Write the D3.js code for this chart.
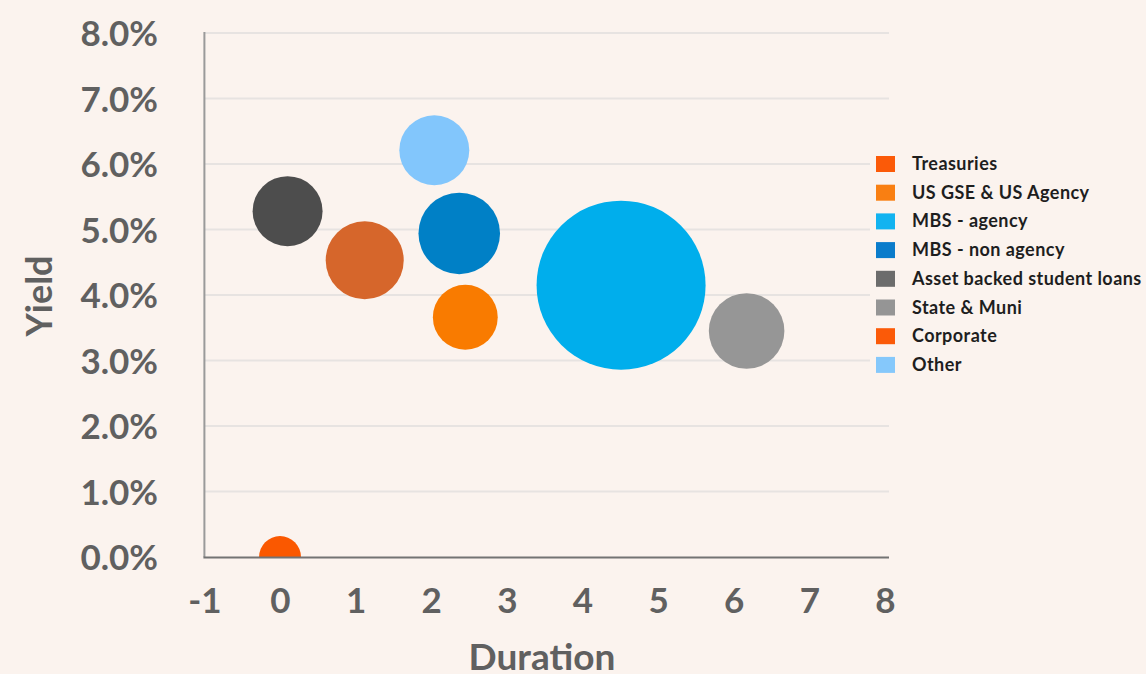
<!DOCTYPE html>
<html><head><meta charset="utf-8">
<script src="https://cdn.jsdelivr.net/npm/d3@7"></script>
<style>
html,body{margin:0;padding:0;background:#fbf3ee;}
svg{display:block;font-family:Lato, "Open Sans", sans-serif;}
</style></head>
<body>
<svg id="c" width="1146" height="674"></svg>
<script>
const categories = ["Treasuries","US GSE & US Agency","MBS - agency","MBS - non agency","Asset backed student loans","State & Muni","Corporate","Other"];
const duration   = [0.0, 2.45, 4.51, 2.37, 0.10, 6.17, 1.12, 2.04];
const yieldVals  = [0.000, 0.0366, 0.0415, 0.0494, 0.0528, 0.0345, 0.0453, 0.0621];
const weights    = [2.8, 6.7, 45.5, 10.6, 7.8, 9.1, 9.7, 7.8];
const bubbleColors = ["#fa5800","#f97b00","#00aeec","#0080c6","#4d4d4d","#969696","#d6662b","#82c6fc"];
const legendColors = ["#fb5a08","#f97f12","#12b3f0","#0a7ccb","#6c6c6c","#959595","#fb5a08","#85c8fb"];
const xTicks = [-1,0,1,2,3,4,5,6,7,8];
const yTicks = [0,0.01,0.02,0.03,0.04,0.05,0.06,0.07,0.08];

const svg = d3.select("#c");
const L = 204.4, R = 885, T = 33, B = 557;
const x = d3.scaleLinear().domain([-1,8]).range([L,R]);
const y = d3.scaleLinear().domain([0,0.08]).range([B,T]);
const r = d3.scaleSqrt().domain([0,45.5]).range([0,84.5]);

// gridlines
svg.append("g").selectAll("line").data(yTicks.filter(d=>d>0)).join("line")
  .attr("x1",L).attr("x2",889).attr("y1",d=>y(d)).attr("y2",d=>y(d))
  .attr("stroke","#e7e3e1").attr("stroke-width",2);

// clip
svg.append("clipPath").attr("id","plot").append("rect")
  .attr("x",L).attr("y",T-2).attr("width",889-L).attr("height",B-T+2);

const data = categories.map((c,i)=>({c, x:duration[i], y:yieldVals[i], w:weights[i], col:bubbleColors[i]}));
svg.append("g").attr("clip-path","url(#plot)").selectAll("circle")
  .data(data.slice().sort((a,b)=>b.w-a.w)).join("circle")
  .attr("cx",d=>x(d.x)).attr("cy",d=>y(d.y)).attr("r",d=>r(d.w))
  .attr("fill",d=>d.col);

// axes lines
svg.append("line").attr("x1",L).attr("x2",L).attr("y1",32).attr("y2",B)
  .attr("stroke","#9a9a9a").attr("stroke-width",2);
svg.append("line").attr("x1",L-1).attr("x2",889).attr("y1",B+0.5).attr("y2",B+0.5)
  .attr("stroke","#737373").attr("stroke-width",2);

// tick labels
const xAxis = d3.axisBottom(x).tickValues(xTicks).tickSize(0).tickPadding(0).tickFormat(d => String(d));
const gx = svg.append("g").attr("transform",`translate(0,${B})`).call(xAxis);
gx.select(".domain").remove();
gx.selectAll("text").attr("y",56).attr("dy",null)
  .attr("font-family","Lato").attr("font-weight","bold").attr("font-size",35).attr("fill","#606060");

const yAxis = d3.axisLeft(y).tickValues(yTicks).tickSize(0).tickPadding(0).tickFormat(d3.format(".1%"));
const gy = svg.append("g").attr("transform",`translate(158,0)`).call(yAxis);
gy.select(".domain").remove();
gy.selectAll("text").attr("x",0).attr("dy",12.5)
  .attr("font-family","Lato").attr("font-weight","bold").attr("font-size",35).attr("fill","#606060");

// axis titles
svg.append("text").attr("x",542).attr("y",670).attr("text-anchor","middle")
  .attr("font-weight","bold").attr("font-size",37).attr("fill","#606060").text("Duration");
svg.append("text").attr("transform","translate(52,296) rotate(-90)").attr("text-anchor","middle")
  .attr("font-weight","bold").attr("font-size",36).attr("fill","#606060").text("Yield");

// legend
const lg = svg.append("g");
lg.append("rect").attr("x",870).attr("y",148).attr("width",276).attr("height",232).attr("fill","#fbf3ee");
const row = lg.selectAll("g.row").data(categories).join("g").attr("class","row")
  .attr("transform",(d,i)=>`translate(876,${164 + i*28.7})`);
row.append("rect").attr("x",0).attr("y",-8).attr("width",19).attr("height",16)
  .attr("fill",(d,i)=>legendColors[i]);
row.append("text").attr("x",36).attr("y",6).attr("font-weight","bold").attr("font-size",18)
  .attr("letter-spacing",0.45).attr("fill","#1e1e1e").text(d=>d);
</script>
</body></html>
